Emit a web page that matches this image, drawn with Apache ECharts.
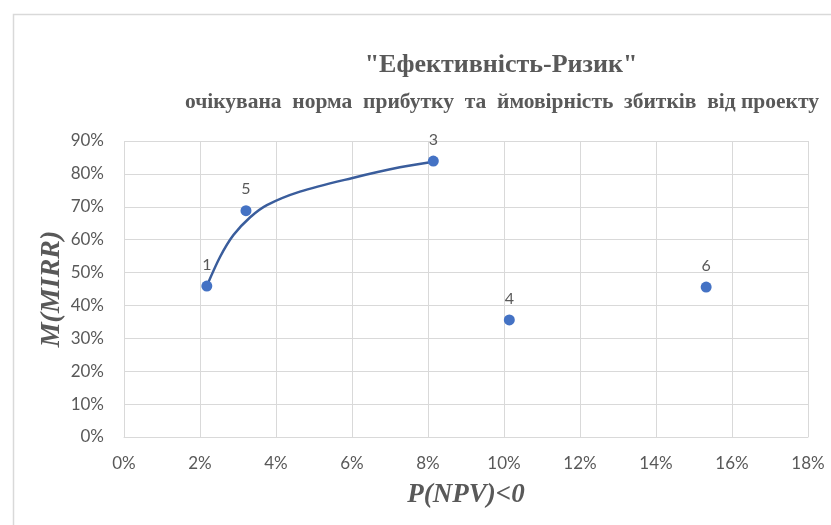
<!DOCTYPE html>
<html>
<head>
<meta charset="utf-8">
<script src="https://cdn.jsdelivr.net/npm/echarts@6/dist/echarts.min.js"></script>
<style>
html,body{margin:0;padding:0;background:#fff;}
#c{width:831px;height:525px;}
</style>
</head>
<body>
<div id="c"></div>
<script>
var titleText = '"Ефективність-Ризик"';
var subtitleText = 'очікувана  норма  прибутку  та  ймовірність  збитків  від проекту';
var xAxisName = 'P(NPV)<0';
var yAxisName = 'M(MIRR)';
var pointLabels = ['1', '5', '3', '4', '6'];
var pointX = [0.0218, 0.0321, 0.0814, 0.1014, 0.1532];
var pointY = [0.459, 0.688, 0.839, 0.356, 0.456];
var curveX = [0.0219, 0.0253, 0.0288, 0.0332, 0.0376, 0.0463, 0.0599, 0.0726, 0.0814];
var curveY = [0.462, 0.548, 0.614, 0.668, 0.705, 0.746, 0.787, 0.820, 0.837];

var chart = echarts.init(document.getElementById('c'), null, {renderer: 'canvas'});
var pts = pointX.map(function (x, i) { return {value: [x, pointY[i]], name: pointLabels[i]}; });
var curve = curveX.map(function (x, i) { return [x, curveY[i]]; });
var pct = function (v) { return Math.round(v * 100) + '%'; };
chart.setOption({
  animation: false,
  backgroundColor: '#fff',
  graphic: [{
    type: 'rect', left: 11, top: 12,
    shape: {width: 830, height: 520},
    style: {fill: 'none', stroke: '#d9d9d9', lineWidth: 1.5},
    silent: true
  }],
  title: [{
    text: titleText, left: 496, top: 47, textAlign: 'center',
    textStyle: {fontFamily: '"Liberation Serif", "Times New Roman", serif', fontWeight: 'bold', fontSize: 26, color: '#595959'}
  }, {
    text: subtitleText, left: 497, top: 86, textAlign: 'center',
    textStyle: {fontFamily: '"Liberation Serif", "Times New Roman", serif', fontWeight: 'bold', fontSize: 21.5, color: '#595959'}
  }],
  grid: {left: 124, right: 23, top: 141, bottom: 88},
  xAxis: {
    type: 'value', min: 0, max: 0.18, interval: 0.02,
    name: xAxisName, nameLocation: 'middle', nameGap: 45, nameMoveOverlap: false,
    nameTextStyle: {fontFamily: '"Liberation Serif", serif', fontWeight: 'bold', fontStyle: 'italic', fontSize: 27, color: '#595959'},
    axisLine: {show: true, lineStyle: {color: '#d9d9d9'}},
    axisTick: {show: false},
    splitLine: {show: true, lineStyle: {color: '#d9d9d9', width: 1}},
    axisLabel: {formatter: pct, margin: 18, fontFamily: 'Lato', fontSize: 17, color: '#595959'}
  },
  yAxis: {
    type: 'value', min: 0, max: 0.9, interval: 0.1,
    name: yAxisName, nameLocation: 'middle', nameGap: 58, nameRotate: 90, nameMoveOverlap: false,
    nameTextStyle: {fontFamily: '"Liberation Serif", serif', fontWeight: 'bold', fontStyle: 'italic', fontSize: 28, color: '#595959'},
    axisLine: {show: false},
    axisTick: {show: false},
    splitLine: {show: true, lineStyle: {color: '#d9d9d9', width: 1}},
    axisLabel: {formatter: pct, margin: 20, fontFamily: 'Lato', fontSize: 17, color: '#595959'}
  },
  series: [{
    type: 'line', data: curve, smooth: 0.3, showSymbol: false, z: 2,
    lineStyle: {color: '#3a5d9c', width: 2.5}
  }, {
    type: 'scatter', data: pts, symbolSize: 11, z: 3,
    itemStyle: {color: '#4472c4', opacity: 1},
    label: {show: true, position: 'top', distance: 8, formatter: '{b}', fontFamily: 'Lato', fontSize: 16, color: '#595959'}
  }]
});
</script>
</body>
</html>
